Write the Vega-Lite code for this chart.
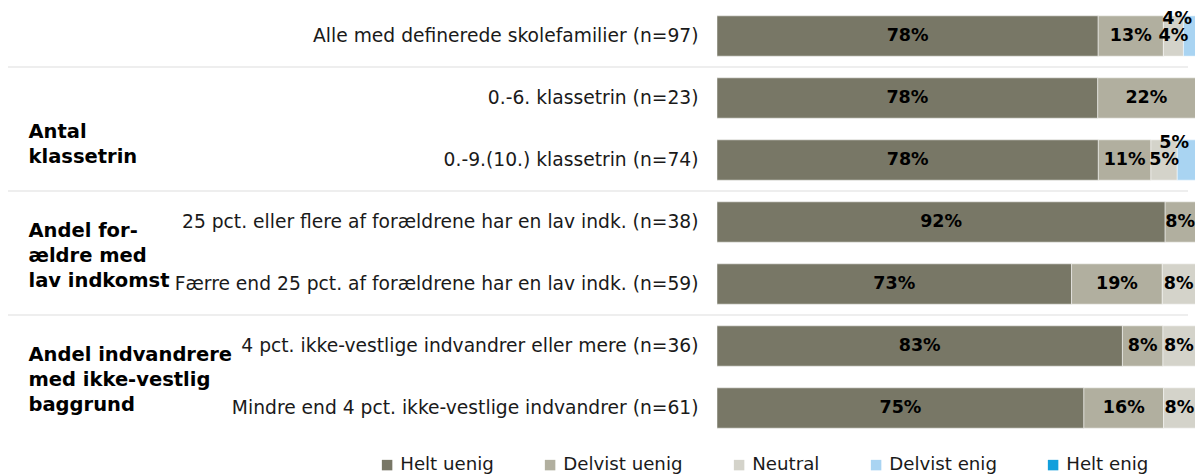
{
  "$schema": "https://vega.github.io/schema/vega-lite/v6.json",
  "width": 478,
  "height": 434,
  "autosize": {"type": "none"},
  "padding": {"left": 717, "top": 5, "right": 0, "bottom": 36},
  "background": "white",
  "config": {
    "view": {"stroke": null},
    "font": "DejaVu Sans",
    "text": {"font": "DejaVu Sans"}
  },
  "datasets": {
    "bars": [
      {"row": "Alle med definerede skolefamilier (n=97)", "cat": "Helt uenig", "k": 1, "pct": 0.7835},
      {"row": "Alle med definerede skolefamilier (n=97)", "cat": "Delvist uenig", "k": 2, "pct": 0.1340},
      {"row": "Alle med definerede skolefamilier (n=97)", "cat": "Neutral", "k": 3, "pct": 0.0412},
      {"row": "Alle med definerede skolefamilier (n=97)", "cat": "Delvist enig", "k": 4, "pct": 0.0412},
      {"row": "0.-6. klassetrin (n=23)", "cat": "Helt uenig", "k": 1, "pct": 0.7826},
      {"row": "0.-6. klassetrin (n=23)", "cat": "Delvist uenig", "k": 2, "pct": 0.2174},
      {"row": "0.-9.(10.) klassetrin (n=74)", "cat": "Helt uenig", "k": 1, "pct": 0.7838},
      {"row": "0.-9.(10.) klassetrin (n=74)", "cat": "Delvist uenig", "k": 2, "pct": 0.1081},
      {"row": "0.-9.(10.) klassetrin (n=74)", "cat": "Neutral", "k": 3, "pct": 0.0541},
      {"row": "0.-9.(10.) klassetrin (n=74)", "cat": "Delvist enig", "k": 4, "pct": 0.0541},
      {"row": "25 pct. eller flere af forældrene har en lav indk. (n=38)", "cat": "Helt uenig", "k": 1, "pct": 0.9211},
      {"row": "25 pct. eller flere af forældrene har en lav indk. (n=38)", "cat": "Delvist uenig", "k": 2, "pct": 0.0789},
      {"row": "Færre end 25 pct. af forældrene har en lav indk. (n=59)", "cat": "Helt uenig", "k": 1, "pct": 0.7288},
      {"row": "Færre end 25 pct. af forældrene har en lav indk. (n=59)", "cat": "Delvist uenig", "k": 2, "pct": 0.1864},
      {"row": "Færre end 25 pct. af forældrene har en lav indk. (n=59)", "cat": "Neutral", "k": 3, "pct": 0.0847},
      {"row": "4 pct. ikke-vestlige indvandrer eller mere (n=36)", "cat": "Helt uenig", "k": 1, "pct": 0.8333},
      {"row": "4 pct. ikke-vestlige indvandrer eller mere (n=36)", "cat": "Delvist uenig", "k": 2, "pct": 0.0833},
      {"row": "4 pct. ikke-vestlige indvandrer eller mere (n=36)", "cat": "Neutral", "k": 3, "pct": 0.0833},
      {"row": "Mindre end 4 pct. ikke-vestlige indvandrer (n=61)", "cat": "Helt uenig", "k": 1, "pct": 0.7541},
      {"row": "Mindre end 4 pct. ikke-vestlige indvandrer (n=61)", "cat": "Delvist uenig", "k": 2, "pct": 0.1639},
      {"row": "Mindre end 4 pct. ikke-vestlige indvandrer (n=61)", "cat": "Neutral", "k": 3, "pct": 0.0820}
    ],
    "groups": [
      {"group": "|Antal|klassetrin"},
      {"group": "Andel for-|ældre med|lav indkomst"},
      {"group": "Andel indvandrere|med ikke-vestlig|baggrund"}
    ],
    "separators": [
      {"pos": 1.5},
      {"pos": 3.5},
      {"pos": 5.5}
    ]
  },
  "resolve": {"scale": {"y": "independent"}, "axis": {"y": "independent"}},
  "layer": [
    {
      "data": {"name": "separators"},
      "mark": {"type": "rule", "color": "#e9e9e9", "strokeWidth": 1.6},
      "encoding": {
        "y": {"field": "pos", "type": "quantitative", "scale": {"domain": [0.5, 7.5], "reverse": true, "nice": false, "zero": false}, "axis": null},
        "x": {"datum": -1.4573, "type": "quantitative", "scale": {"domain": [0, 0.9825], "nice": false, "zero": false}, "axis": null},
        "x2": {"datum": 0.9681}
      }
    },
    {
      "data": {"name": "bars"},
      "transform": [
        {"stack": "pct", "groupby": ["row"], "sort": [{"field": "k", "order": "ascending"}], "as": ["x0", "x1"]},
        {"calculate": "(datum.x0 + min(datum.x1, 0.9825)) / 2", "as": "mid"}
      ],
      "encoding": {
        "y": {
          "field": "row", "type": "nominal", "sort": null,
          "scale": {"paddingInner": 0.35, "paddingOuter": 0.175},
          "axis": {
            "orient": "left", "title": null, "ticks": false, "domain": false, "tickSize": 0,
            "labelPadding": 19, "labelFontSize": 18.7, "labelFont": "DejaVu Sans",
            "labelColor": "#1a1a1a", "labelLimit": 0
          }
        }
      },
      "layer": [
        {
          "mark": {"type": "bar", "stroke": "#ffffff", "strokeWidth": 0.8, "strokeOpacity": 0.6},
          "encoding": {
            "x": {"field": "x0", "type": "quantitative", "scale": {"domain": [0, 0.9825], "nice": false, "zero": false}, "axis": null},
            "x2": {"field": "x1"},
            "color": {
              "field": "cat", "type": "nominal",
              "scale": {
                "domain": ["Helt uenig", "Delvist uenig", "Neutral", "Delvist enig", "Helt enig"],
                "range": ["#787766", "#b1af9f", "#d4d3ca", "#a9d4f2", "#129fdc"]
              },
              "legend": {
                "orient": "none", "legendX": -339, "legendY": 451, "direction": "horizontal",
                "columns": 5, "columnPadding": 47, "gridAlign": "none",
                "symbolType": "square", "symbolSize": 110, "symbolStrokeWidth": 0,
                "labelFontSize": 18.2, "labelFont": "DejaVu Sans", "labelColor": "#1a1a1a",
                "labelOffset": 4, "labelLimit": 0, "title": null, "padding": 0
              }
            }
          }
        },
        {
          "transform": [{"filter": "datum.cat !== 'Delvist enig'"}],
          "mark": {"type": "text", "fontWeight": "bold", "fontSize": 17.5, "color": "#000000", "baseline": "middle", "align": "center"},
          "encoding": {
            "x": {"field": "mid", "type": "quantitative", "scale": {"domain": [0, 0.9825], "nice": false, "zero": false}},
            "text": {"field": "pct", "type": "quantitative", "format": ".0%"}
          }
        },
        {
          "transform": [{"filter": "datum.cat === 'Delvist enig'"}],
          "mark": {"type": "text", "fontWeight": "bold", "fontSize": 17.5, "color": "#000000", "baseline": "middle", "align": "center", "dx": -12, "dy": -17},
          "encoding": {
            "x": {"field": "mid", "type": "quantitative", "scale": {"domain": [0, 0.9825], "nice": false, "zero": false}},
            "text": {"field": "pct", "type": "quantitative", "format": ".0%"}
          }
        }
      ]
    },
    {
      "data": {"name": "groups"},
      "mark": {"type": "point", "opacity": 0},
      "encoding": {
        "y": {
          "field": "group", "type": "nominal", "sort": null,
          "scale": {"type": "point", "padding": 0.75, "align": 0.6667},
          "axis": {
            "orient": "left", "title": null, "ticks": false, "domain": false, "tickSize": 0,
            "labelPadding": 689, "labelAlign": "left", "labelBaseline": "middle",
            "labelOffset": -23,
            "labelFontSize": 19.5, "labelFontWeight": "bold", "labelFont": "DejaVu Sans",
            "labelColor": "#000000", "labelLimit": 0, "labelLineHeight": 25,
            "labelOverlap": false, "labelExpr": "split(datum.value, '|')"
          }
        }
      }
    }
  ]
}
